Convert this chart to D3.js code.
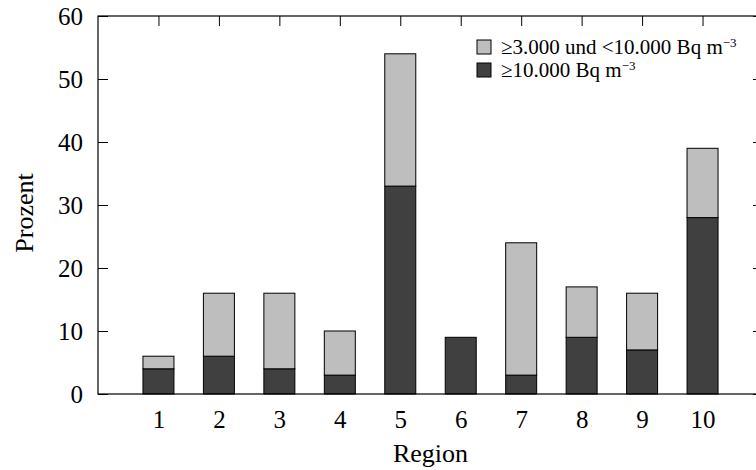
<!DOCTYPE html>
<html>
<head>
<meta charset="utf-8">
<script src="https://cdn.jsdelivr.net/npm/d3@7"></script>
<style>
body { margin: 0; background: #fff; }
svg text { font-family: "Liberation Serif", "DejaVu Serif", serif; fill: #000; }
</style>
</head>
<body>
<div id="chartID"></div>
<script>
//regions on the x axis
var regions = [1, 2, 3, 4, 5, 6, 7, 8, 9, 10]
//share of homes at or above 10.000 Bq m-3 (dark part)
var high = [4, 6, 4, 3, 33, 9, 3, 9, 7, 28]
//share between 3.000 and 10.000 Bq m-3 (light part on top)
var mid = [2, 10, 12, 7, 21, 0, 21, 8, 9, 11]
//y tick values
var yTicks = [0, 10, 20, 30, 40, 50, 60]
var legendLabels = ["\u22653.000 und <10.000 Bq m", "\u226510.000 Bq m"]

var width = 756, height = 470;
var margin = {top: 16, right: -7, bottom: 76, left: 98};
var innerW = width - margin.left - margin.right;
var innerH = height - margin.top - margin.bottom;

var svg = d3.select("#chartID").append("svg")
    .attr("width", width)
    .attr("height", height);

var g = svg.append("g")
    .attr("transform", "translate(" + margin.left + "," + margin.top + ")");

//x is numeric like gnuplot, with one empty slot each side
var xScale = d3.scaleLinear().domain([0, 11]).range([0, innerW]);
var yScale = d3.scaleLinear().domain([0, 60]).range([innerH, 0]);
var barW = 31;

//stacking the two series
var data = regions.map(function(r, i) { return {region: r, high: high[i], mid: mid[i]}; });
var stack = d3.stack().keys(["high", "mid"])(data);
var colors = {high: "#404040", mid: "#bebebe"};

//clean up what d3 puts on an axis
var tidy = function(a) {
  a.attr("font-family", null).attr("font-size", null);
  a.select(".domain").remove();
  a.selectAll("line").attr("stroke", "#000");
  a.selectAll("text").style("font-size", "25px");
}

//ticks first so the bars cover the ones on the bottom
g.append("g")
    .attr("transform", "translate(0," + innerH + ")")
    .call(d3.axisBottom(xScale).tickValues(regions).tickSizeInner(-10).tickSizeOuter(0).tickPadding(16))
    .call(tidy);

g.append("g")
    .call(d3.axisTop(xScale).tickValues(regions).tickSizeInner(-10).tickSizeOuter(0).tickFormat(""))
    .call(tidy);

g.append("g")
    .call(d3.axisLeft(yScale).tickValues(yTicks).tickSizeInner(-10).tickSizeOuter(0).tickPadding(15))
    .call(tidy);

g.append("g")
    .attr("transform", "translate(" + innerW + ",0)")
    .call(d3.axisRight(yScale).tickValues(yTicks).tickSizeInner(-10).tickSizeOuter(0).tickFormat(""))
    .call(tidy);

//bars
g.selectAll(".layer")
    .data(stack)
    .enter().append("g")
    .attr("class", "layer")
    .attr("fill", function(d) { return colors[d.key]; })
    .selectAll("rect")
    .data(function(d) { return d.filter(function(p) { return p[1] > p[0]; }); })
    .enter().append("rect")
    .attr("x", function(d) { return xScale(d.data.region) - barW / 2; })
    .attr("width", barW)
    .attr("y", function(d) { return yScale(d[1]); })
    .attr("height", function(d) { return yScale(d[0]) - yScale(d[1]); })
    .attr("stroke", "#000")
    .attr("stroke-width", 1);

//frame
g.append("rect")
    .attr("x", 0).attr("y", 0)
    .attr("width", innerW).attr("height", innerH)
    .attr("fill", "none")
    .attr("stroke", "#000")
    .attr("stroke-width", 1.2);

//axis titles
svg.append("text")
    .attr("x", margin.left + xScale(5.5))
    .attr("y", 462)
    .attr("text-anchor", "middle")
    .style("font-size", "26px")
    .text("Region");

svg.append("text")
    .attr("transform", "translate(33,213) rotate(-90)")
    .attr("text-anchor", "middle")
    .style("font-size", "26px")
    .text("Prozent");

//legend
var legend = svg.append("g").attr("transform", "translate(477,40)");
var keys = ["mid", "high"];
keys.forEach(function(k, i) {
  var row = legend.append("g").attr("transform", "translate(0," + (i * 23) + ")");
  row.append("rect")
      .attr("width", 14).attr("height", 14)
      .attr("fill", colors[k])
      .attr("stroke", "#000");
  var t = row.append("text")
      .attr("x", 24).attr("y", 14)
      .style("font-size", "21px")
      .text(legendLabels[i]);
  t.append("tspan")
      .attr("dy", -7)
      .style("font-size", "13px")
      .text("\u22123");
});
</script>
</body>
</html>
